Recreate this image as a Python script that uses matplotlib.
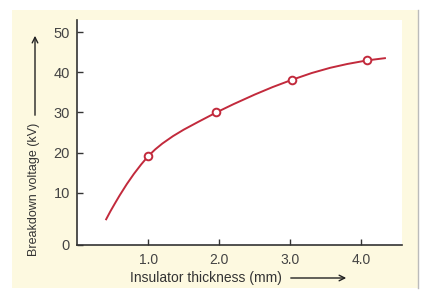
import matplotlib
matplotlib.use("Agg")
import matplotlib.pyplot as plt
from matplotlib.patches import Rectangle

# curve
thickness = [0.41, 0.47, 0.535, 0.6, 0.7, 0.8, 0.9, 1.0, 1.1, 1.2, 1.35, 1.5,
             1.7, 1.96, 2.2, 2.5, 2.75, 3.02, 3.3, 3.56, 3.8, 4.08, 4.33]
voltage = [3.4, 5.4, 7.4, 9.35, 12.15, 14.7, 17.0, 19.1, 20.8, 22.25, 24.1,
           25.7, 27.6, 30.0, 32.05, 34.45, 36.3, 38.1, 39.8, 41.1, 42.05,
           42.95, 43.5]

# measured points (open circles)
pt_x = [1.0, 1.96, 3.02, 4.08]
pt_y = [19.1, 30.0, 38.1, 42.95]

xticks = [1.0, 2.0, 3.0, 4.0]
xticklabels = ["1.0", "2.0", "3.0", "4.0"]
yticks = [-3, 10, 20, 30, 40, 50]
yticklabels = ["0", "10", "20", "30", "40", "50"]

red = "#c22a3c"
beige = "#fdf9e0"

fig = plt.figure(figsize=(4.22, 2.91), dpi=100)
fig.patch.set_facecolor("white")
fig.add_artist(Rectangle((12 / 422, 3 / 291), 406 / 422, 278 / 291,
                         transform=fig.transFigure, facecolor=beige,
                         edgecolor="none", zorder=-5))
fig.add_artist(plt.Line2D([418 / 422, 418 / 422], [3 / 291, 281 / 291],
                          transform=fig.transFigure, color="#bbbbbb", lw=1,
                          zorder=-4))

ax = fig.add_axes([77 / 422, 46 / 291, 325 / 422, 225 / 291])
ax.set_facecolor("white")
ax.plot(thickness, voltage, color=red, lw=1.4, zorder=2)
ax.plot(pt_x, pt_y, "o", ms=5.5, mfc="white", mec=red, mew=1.4, zorder=3)

ax.set_xlim(0, 4.57)
ax.set_ylim(-3, 53)
ax.set_xticks(xticks)
ax.set_xticklabels(xticklabels)
ax.set_yticks(yticks)
ax.set_yticklabels(yticklabels)

for s in ["top", "right"]:
    ax.spines[s].set_visible(False)
for s in ["left", "bottom"]:
    ax.spines[s].set_color("#333333")
    ax.spines[s].set_linewidth(1.2)

ax.tick_params(axis="both", direction="in", length=4, width=1, color="#333333",
               labelcolor="#444444")
ax.tick_params(axis="y", labelsize=10.5, pad=5)
ax.tick_params(axis="x", labelsize=10, pad=6)
for lbl in ax.get_xticklabels() + ax.get_yticklabels():
    lbl.set_fontfamily("Liberation Sans")

fig.text(34 / 422, 102 / 291, "Breakdown voltage (kV)", rotation=90,
         ha="center", va="center", fontsize=9, color="#333333",
         family="Liberation Sans")
fig.text(130 / 422, 13 / 291, "Insulator thickness (mm)", ha="left",
         va="center", fontsize=10, color="#333333", family="Liberation Sans")

ax.annotate("", xy=(35, 258), xytext=(35, 173), xycoords="figure pixels",
            textcoords="figure pixels", annotation_clip=False,
            arrowprops=dict(arrowstyle="->", color="#222222", lw=1))
ax.annotate("", xy=(349, 13), xytext=(288, 13), xycoords="figure pixels",
            textcoords="figure pixels", annotation_clip=False,
            arrowprops=dict(arrowstyle="->", color="#222222", lw=1))

fig.savefig("out.png", dpi=100)
